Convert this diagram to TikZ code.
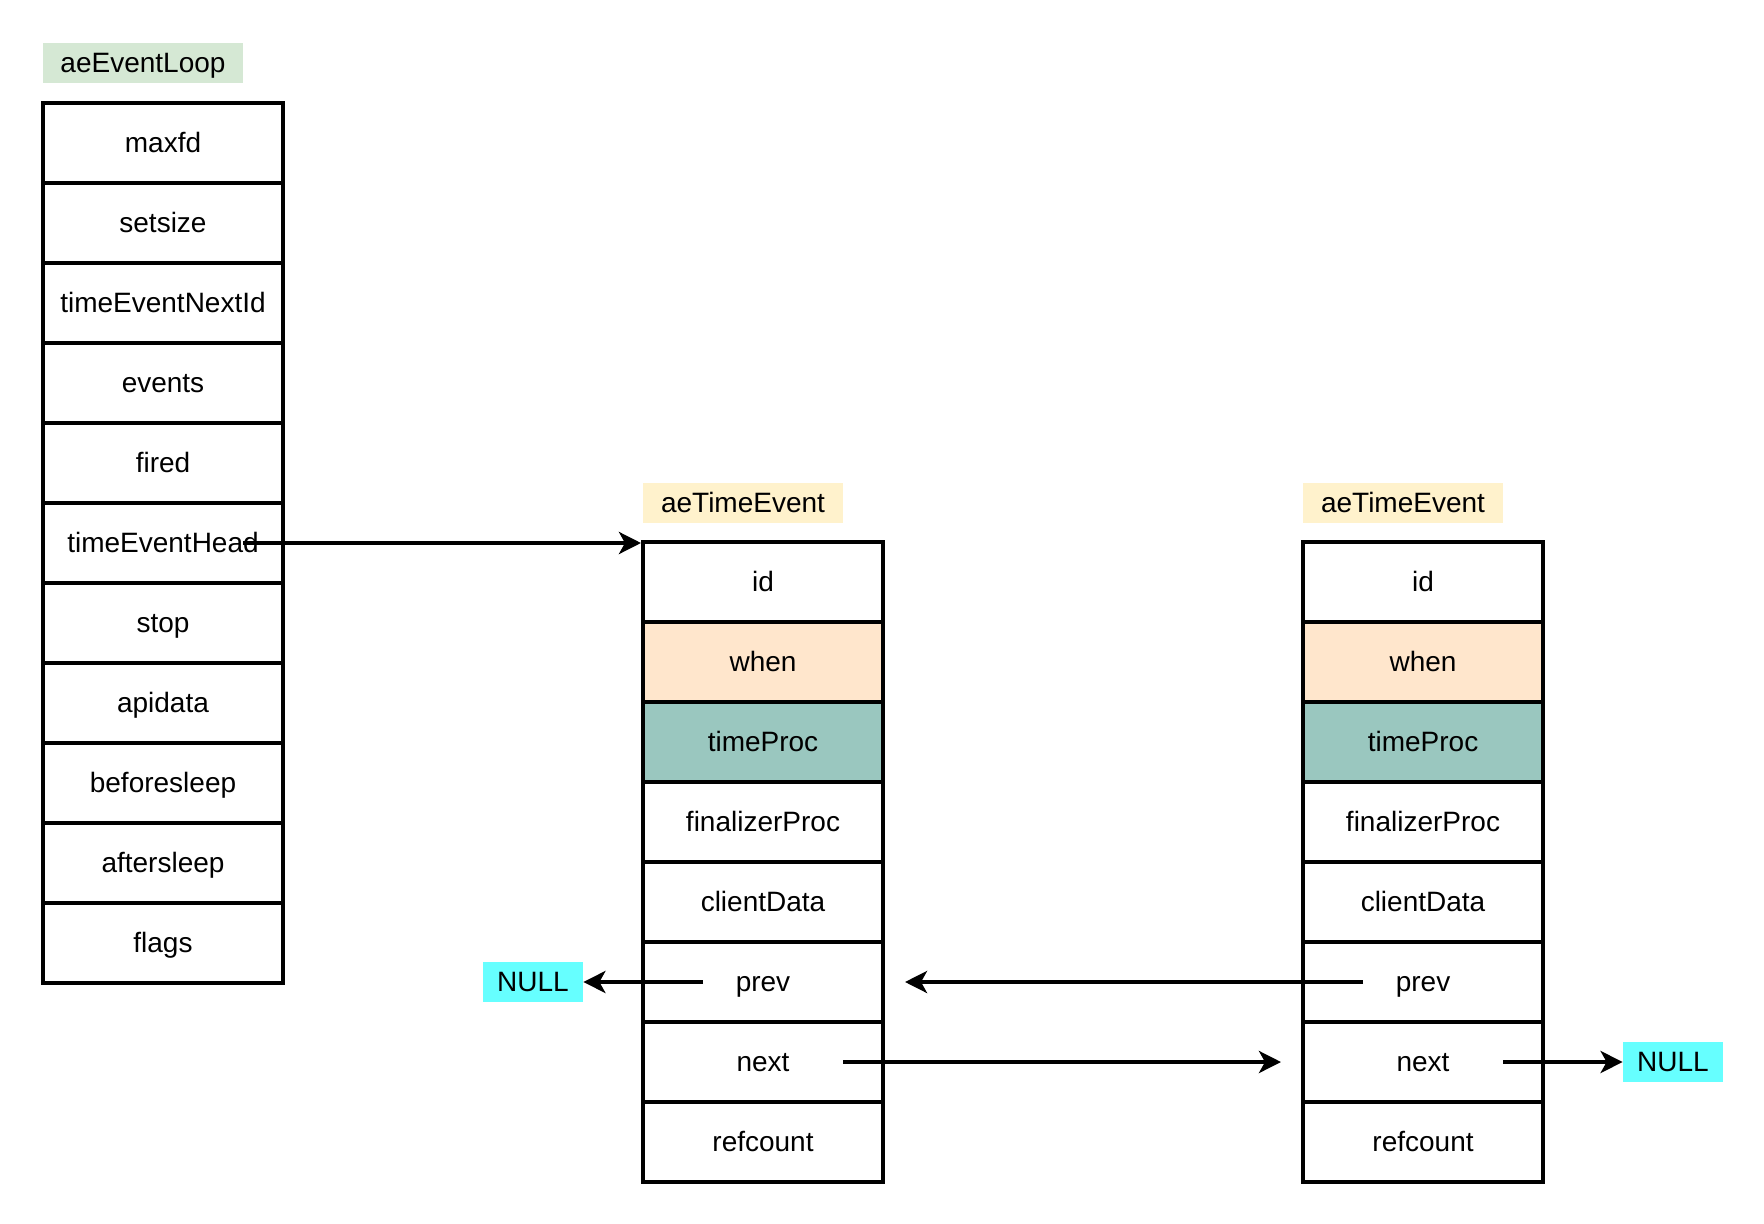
\documentclass[tikz,border=0pt]{standalone}
\usepackage{fontspec}
\setmainfont{Liberation Sans}
\usetikzlibrary{arrows.meta}

\definecolor{loopgreen}{HTML}{D5E8D4}
\definecolor{eventyellow}{HTML}{FFF2CC}
\definecolor{whenorange}{HTML}{FFE6CC}
\definecolor{procteal}{HTML}{9AC7BF}
\definecolor{nullcyan}{HTML}{66FFFF}

\tikzset{
    field/.style={draw, line width=2pt, minimum width=120pt, minimum height=40pt, inner sep=0pt,
        text height=1em, text depth=0.05em},
    title/.style={minimum width=100pt, minimum height=20pt, inner sep=0pt,
        text height=1em, text depth=0.05em},
    nullbox/.style={fill=nullcyan, minimum width=50pt, minimum height=20pt, inner sep=0pt,
        text height=1em, text depth=0.05em},
    ptr/.style={line width=2pt, -{Stealth[length=11pt, width=11pt, inset=3pt]}}
}

\begin{document}
\begin{tikzpicture}[x=0.5pt, y=-0.5pt, font=\fontsize{14pt}{16pt}\selectfont]
    \useasboundingbox (0,0) rectangle (1764,1224);

    % Event loop struct
    \node[title, fill=loopgreen] (looptitle) at (143,63) {aeEventLoop};
    \foreach \f [count=\i] in {maxfd,setsize,timeEventNextId,events,fired,timeEventHead,stop,apidata,beforesleep,aftersleep,flags}
        \node[field] (loop\i) at (163,63+80*\i) {\f};

    % Time events
    \node[title, fill=eventyellow] (ev1title) at (743,503) {aeTimeEvent};
    \node[title, fill=eventyellow] (ev2title) at (1403,503) {aeTimeEvent};
    \foreach \c/\x in {1/763, 2/1423} {
        \foreach \f/\col [count=\i] in {id/white,when/whenorange,timeProc/procteal,finalizerProc/white,clientData/white,prev/white,next/white,refcount/white}
            \node[field, fill=\col] (ev\c-\i) at (\x,502+80*\i) {\f};
    }

    % NULL ends
    \node[nullbox] (null1) at (533,982) {NULL};
    \node[nullbox] (null2) at (1673,1062) {NULL};

    % Pointers
    \draw[ptr] ([xshift=40pt]loop6.center) -- (loop6.center -| ev1-1.west);
    \draw[ptr] ([xshift=-30pt]ev1-6.center) -- (null1.east);
    \draw[ptr] ([xshift=-30pt]ev2-6.center) -- ([xshift=10pt]ev1-6.east);
    \draw[ptr] ([xshift=40pt]ev1-7.center) -- ([xshift=-10pt]ev2-7.west);
    \draw[ptr] ([xshift=40pt]ev2-7.center) -- (null2.west);
\end{tikzpicture}
\end{document}
